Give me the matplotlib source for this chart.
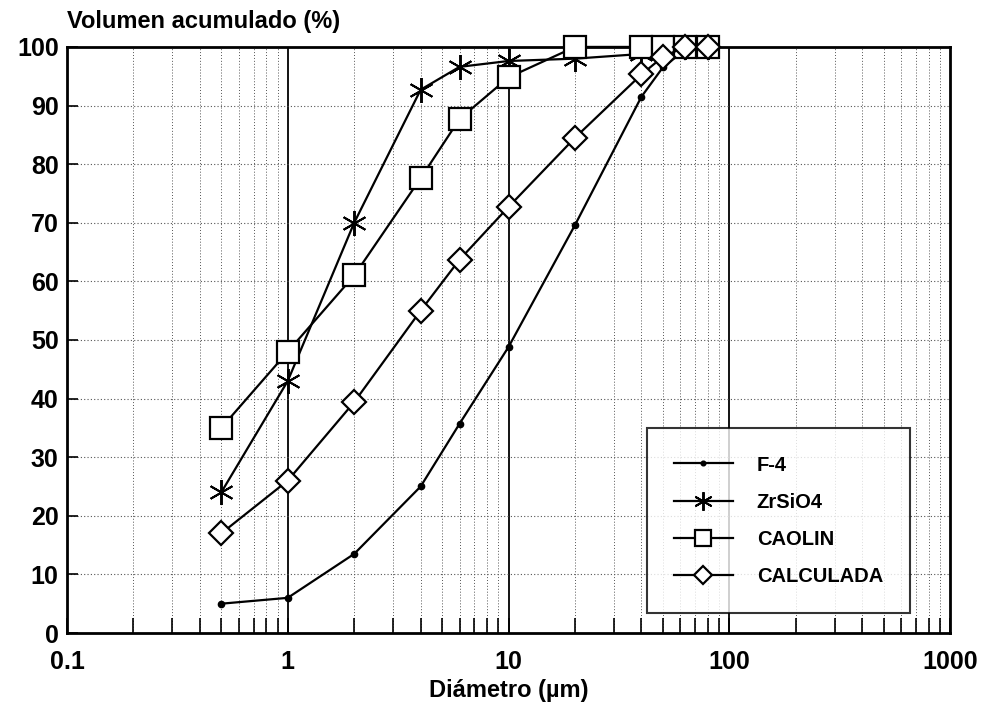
import numpy as np
import matplotlib
matplotlib.use("Agg")
import matplotlib.pyplot as plt
from matplotlib.ticker import FixedLocator, NullFormatter, FixedFormatter

plt.rcParams['font.family'] = ['Liberation Sans', 'DejaVu Sans']
plt.rcParams['font.weight'] = 'bold'

# diameters (um) of the measured points
diam = [0.5, 1, 2, 4, 6, 10, 20, 40, 50, 63, 80]

# cumulative volume (%) per material
f4 = [5, 6, 13.5, 25, 35.7, 48.8, 69.6, 91.5, 96.5, 99.5, 100]
zrsio4 = [24, 43, 70, 92.7, 96.6, 97.6, 98, 98.8, 99.7, 100, 100]
caolin = [35, 48, 61, 77.6, 87.7, 94.8, 100, 100, 100, 100, 100]
calculada = [17, 26, 39.4, 55, 63.7, 72.7, 84.5, 95.3, 98.3, 100, 100]

xticks = [0.1, 1, 10, 100, 1000]
xticklabels = ['0.1', '1', '10', '100', '1000']
yticks = list(range(0, 101, 10))

fig = plt.figure(figsize=(9.85, 7.11), dpi=100)
ax = fig.add_axes([0.068, 0.1097, 0.8965, 0.8243])

ax.set_xscale('log')
ax.set_xlim(0.1, 1000)
ax.set_ylim(0, 100)

# grid: dotted at minor decades, solid at decades, dotted horizontals
minors = [m * d for d in [0.1, 1, 10, 100] for m in range(2, 10)]
for xv in minors:
    ax.axvline(xv, color='#555555', lw=0.7, ls=(0, (1, 2)), zorder=1)
for xv in xticks[1:-1]:
    ax.axvline(xv, color='black', lw=1.3, zorder=1)
for yv in yticks[1:-1]:
    ax.axhline(yv, color='#555555', lw=0.8, ls=(0, (1, 2)), zorder=1)

lw = 1.6
ax.plot(diam, f4, color='black', lw=lw, marker='o', ms=4.5, label='F-4',
        zorder=3, clip_on=False)
ax.plot(diam, zrsio4, color='black', lw=lw, marker=(6, 2, 0), ms=18, mew=1.4,
        label='ZrSiO4', zorder=3, clip_on=False)
ax.plot(diam, caolin, color='black', lw=lw, marker='s', ms=16, mfc='white', mew=1.6,
        label='CAOLIN', zorder=3, clip_on=False)
ax.plot(diam, calculada, color='black', lw=lw, marker='D', ms=12, mfc='white', mew=1.6,
        label='CALCULADA', zorder=3, clip_on=False)

ax.xaxis.set_major_locator(FixedLocator(xticks))
ax.xaxis.set_major_formatter(FixedFormatter(xticklabels))
ax.xaxis.set_minor_locator(FixedLocator(minors))
ax.xaxis.set_minor_formatter(NullFormatter())
ax.set_yticks(yticks)

ax.tick_params(axis='x', which='both', direction='in', length=11, width=1.2,
               labelsize=18, pad=12, top=False)
ax.tick_params(axis='y', which='major', direction='in', length=8, width=1.2,
               labelsize=18, pad=6)
for lab in ax.get_xticklabels() + ax.get_yticklabels():
    lab.set_fontweight('bold')

for sp in ax.spines.values():
    sp.set_linewidth(2)

ax.set_xlabel('Diámetro (µm)', fontsize=17, fontweight='bold', labelpad=4)
fig.text(0.068, 0.953, 'Volumen acumulado (%)', fontsize=17, fontweight='bold',
         ha='left', va='bottom')

leg = ax.legend(loc='lower right', bbox_to_anchor=(0.955, 0.034), fontsize=14.5,
                frameon=True, fancybox=False, edgecolor='black', borderpad=1.35,
                labelspacing=0.9, handlelength=2.9, handletextpad=1.2,
                borderaxespad=0, markerscale=0.75)
leg.get_frame().set_linewidth(1.5)
leg.set_zorder(5)
for t in leg.get_texts():
    t.set_fontweight('bold')

fig.savefig('out.png', dpi=100)
